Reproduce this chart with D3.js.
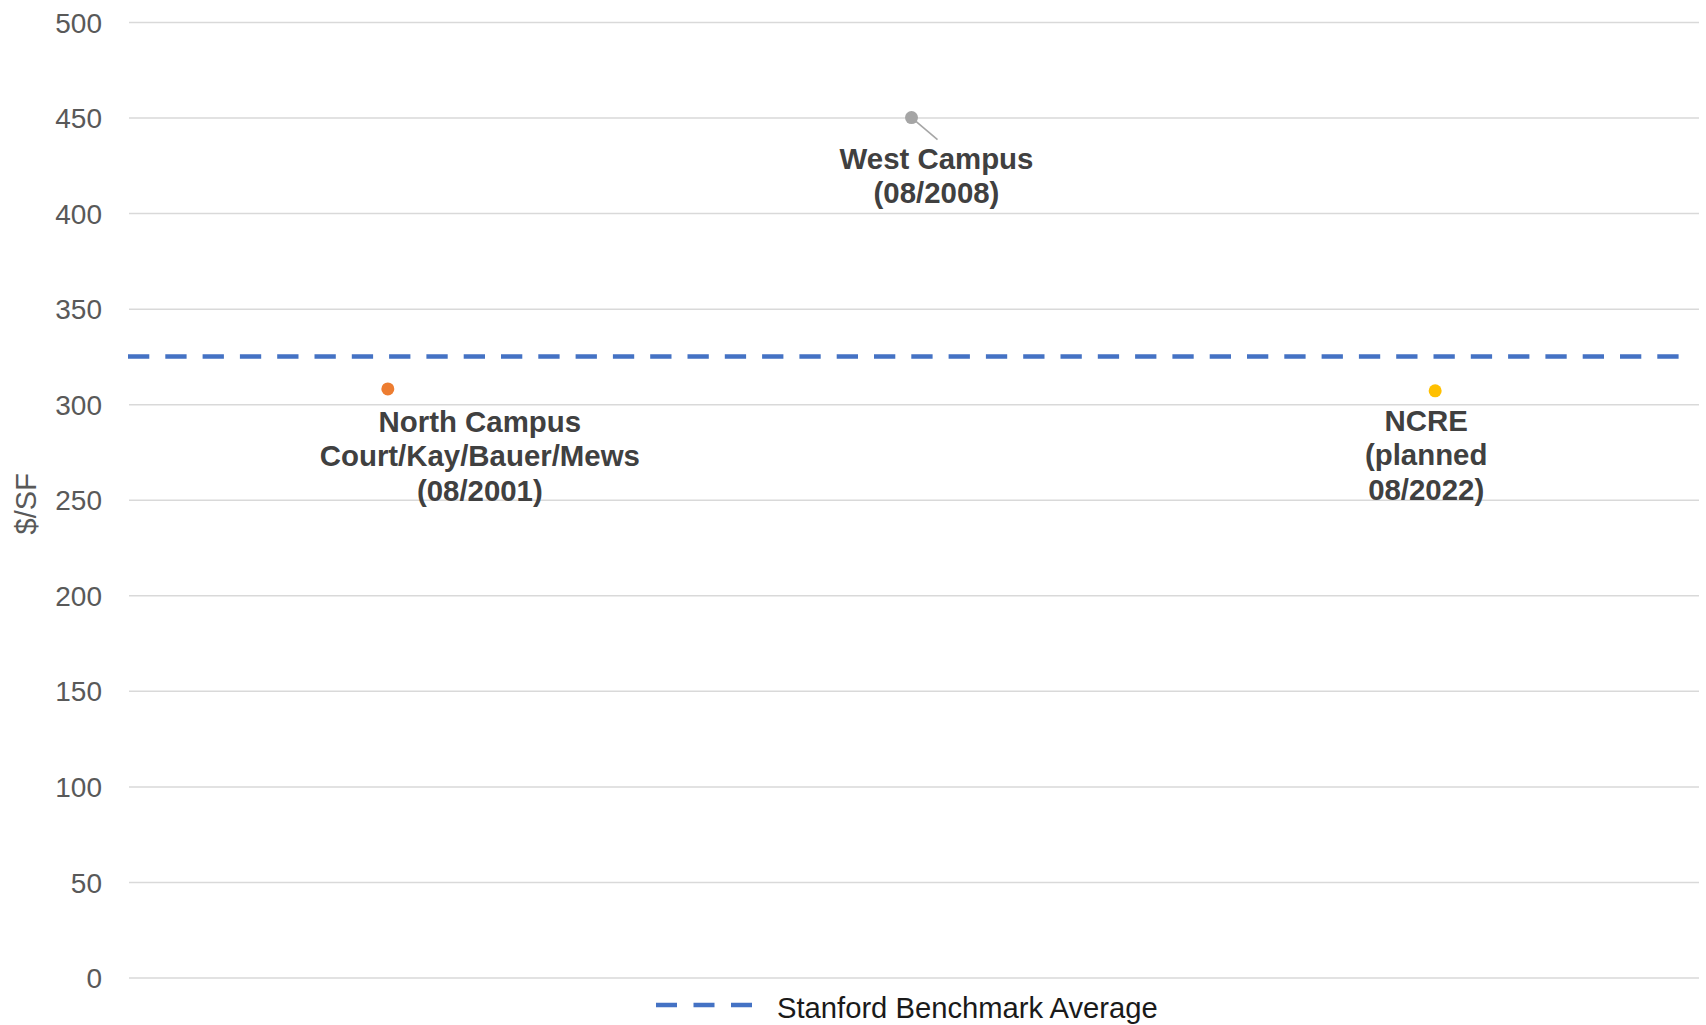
<!DOCTYPE html>
<html>
<head>
<meta charset="utf-8">
<script src="https://cdn.jsdelivr.net/npm/d3@7"></script>
<style>
  html, body { margin: 0; padding: 0; background: #fff; }
  svg { display: block; font-family: "Liberation Sans", Arial, sans-serif; }
</style>
</head>
<body>
<svg id="chart" width="1706" height="1025"></svg>
<script>
// Cost per square foot of campus housing projects vs. the benchmark average
const projects = ["North Campus", "West Campus", "NCRE"];
const costPerSF = [308, 450, 307];
const pointColors = ["#ED7D31", "#A5A5A5", "#FFC000"];
const projectLabels = [
  ["North Campus", "Court/Kay/Bauer/Mews", "(08/2001)"],
  ["West Campus", "(08/2008)"],
  ["NCRE", "(planned", "08/2022)"]
];
const benchmarkAverage = 325;
const benchmarkName = "Stanford Benchmark Average";
const yTicks = [0, 50, 100, 150, 200, 250, 300, 350, 400, 450, 500];
const yTitle = "$/SF";

// Label placement relative to each point (dx to label centre, dy to first baseline)
const labelOffsets = [
  { dx: 92, dy: 43 },
  { dx: 25, dy: 51, leader: true },
  { dx: -9, dy: 40 }
];
const labelLineHeight = 34.5;

const svg = d3.select("#chart");
const plot = { left: 129, right: 1699, top: 22, bottom: 977.5 };

const x = d3.scaleBand().domain(projects).range([126, 1697]);
const y = d3.scaleLinear().domain([0, 500]).range([plot.bottom, plot.top]);

// Gridlines + y tick labels
const yAxis = d3.axisLeft(y).tickValues(yTicks).tickSize(0).tickPadding(0);
const gAxis = svg.append("g").attr("transform", `translate(${plot.left},0)`).call(yAxis);
gAxis.select(".domain").remove();
gAxis.selectAll(".tick text")
  .attr("x", -27)
  .attr("dy", "0.36em")
  .attr("fill", "#595959")
  .style("font-size", "28px")
  .style("font-family", "'Liberation Sans', Arial, sans-serif");
gAxis.selectAll(".tick line")
  .attr("x1", 0).attr("x2", plot.right - plot.left)
  .attr("stroke", "#d9d9d9").attr("stroke-width", 1.5);

// Y axis title
svg.append("text")
  .attr("transform", `translate(36,${(y(250) + 4)}) rotate(-90)`)
  .attr("text-anchor", "middle")
  .attr("fill", "#595959")
  .style("font-size", "29px")
  .text(yTitle);

// Benchmark average line
svg.append("line")
  .attr("x1", plot.left - 1).attr("x2", 1681)
  .attr("y1", y(benchmarkAverage)).attr("y2", y(benchmarkAverage))
  .attr("stroke", "#4472C4").attr("stroke-width", 4.5)
  .attr("stroke-dasharray", "21.3,16");

// Project points
const cx = (d) => x(d) + x.bandwidth() / 2;
projects.forEach((p, i) => {
  const px = cx(p), py = y(costPerSF[i]);
  const off = labelOffsets[i];
  if (off.leader) {
    svg.append("line")
      .attr("x1", px).attr("y1", py)
      .attr("x2", px + 26).attr("y2", py + 22)
      .attr("stroke", "#a6a6a6").attr("stroke-width", 1.6);
  }
  svg.append("circle")
    .attr("cx", px).attr("cy", py).attr("r", 6.5)
    .attr("fill", pointColors[i]);

  const t = svg.append("text")
    .attr("text-anchor", "middle")
    .attr("fill", "#404040")
    .style("font-size", "29.4px")
    .style("font-weight", "bold");
  projectLabels[i].forEach((line, k) => {
    t.append("tspan")
      .attr("x", px + off.dx)
      .attr("y", py + off.dy + k * labelLineHeight)
      .text(line);
  });
});

// Legend
const lg = svg.append("g");
lg.append("line")
  .attr("x1", 656).attr("x2", 752).attr("y1", 1005).attr("y2", 1005)
  .attr("stroke", "#4472C4").attr("stroke-width", 4.5)
  .attr("stroke-dasharray", "21,16.5");
lg.append("text")
  .attr("x", 777).attr("y", 1018)
  .attr("fill", "#1a1a1a")
  .style("font-size", "29.2px")
  .text(benchmarkName);
</script>
</body>
</html>
